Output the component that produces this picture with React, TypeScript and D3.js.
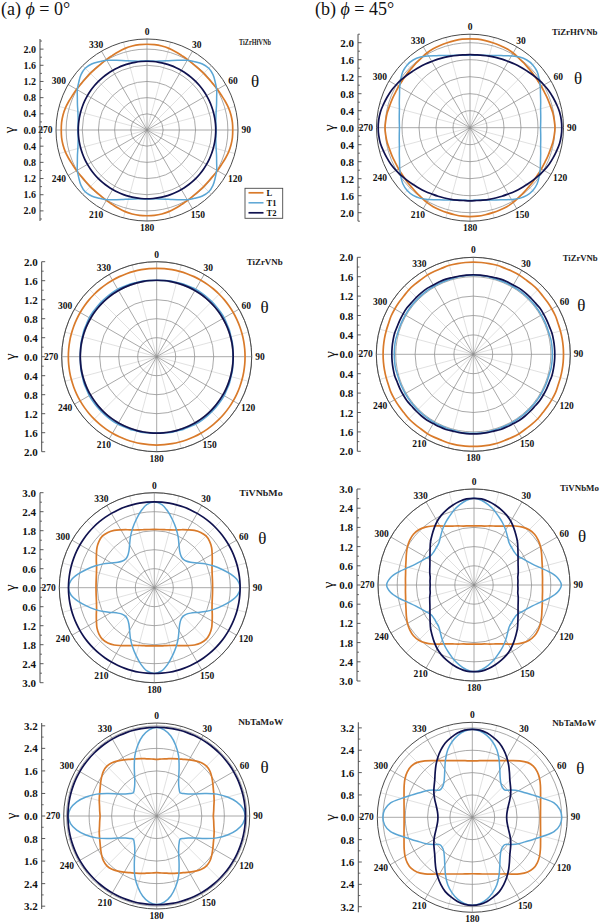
import React from "react";
import * as d3 from "d3";

// θ sample angles (deg) of one quadrant; each curve is mirror-symmetric about the 0–180 and 90–270 axes
const THETA_DEG = [0, 5, 10, 15, 20, 25, 30, 35, 40, 45, 50, 55, 60, 65, 70, 75, 80, 85, 90];

// (a) φ = 0°
const TiZrHfVNb_phi0_L = [2.12, 2.12, 2.11, 2.09, 2.06, 2.03, 2.01, 1.99, 1.98, 1.98, 1.98, 1.99, 2.01, 2.03, 2.06, 2.09, 2.11, 2.12, 2.12];
const TiZrHfVNb_phi0_T1 = [1.71, 1.71, 1.73, 1.77, 1.83, 1.9, 1.99, 2.06, 2.13, 2.16, 2.13, 2.06, 1.99, 1.9, 1.83, 1.77, 1.73, 1.71, 1.71];
const TiZrHfVNb_phi0_T2 = [1.7, 1.7, 1.7, 1.7, 1.7, 1.7, 1.7, 1.7, 1.7, 1.7, 1.7, 1.7, 1.7, 1.7, 1.7, 1.7, 1.7, 1.7, 1.7];

const TiZrVNb_phi0_L = [1.86, 1.86, 1.86, 1.86, 1.86, 1.86, 1.86, 1.86, 1.86, 1.86, 1.86, 1.86, 1.86, 1.86, 1.86, 1.86, 1.86, 1.86, 1.86];
const TiZrVNb_phi0_T1 = [1.61, 1.61, 1.62, 1.62, 1.63, 1.63, 1.64, 1.64, 1.64, 1.64, 1.64, 1.64, 1.64, 1.63, 1.63, 1.62, 1.62, 1.61, 1.61];
const TiZrVNb_phi0_T2 = [1.61, 1.61, 1.61, 1.61, 1.61, 1.61, 1.61, 1.61, 1.61, 1.61, 1.61, 1.61, 1.61, 1.61, 1.61, 1.61, 1.61, 1.61, 1.61];

const TiVNbMo_phi0_L = [1.84, 1.845, 1.86, 1.89, 1.94, 2.02, 2.11, 2.21, 2.28, 2.31, 2.28, 2.21, 2.11, 2.02, 1.94, 1.89, 1.86, 1.845, 1.84];
const TiVNbMo_phi0_T1 = [2.71, 2.64, 2.45, 2.22, 2.0, 1.78, 1.56, 1.4, 1.31, 1.28, 1.31, 1.4, 1.56, 1.78, 2.0, 2.22, 2.45, 2.64, 2.71];
const TiVNbMo_phi0_T2 = [2.71, 2.71, 2.71, 2.71, 2.71, 2.71, 2.71, 2.71, 2.71, 2.71, 2.71, 2.71, 2.71, 2.71, 2.71, 2.71, 2.71, 2.71, 2.71];

const NbTaMoW_phi0_L = [2.01, 2.03, 2.06, 2.11, 2.16, 2.22, 2.3, 2.39, 2.47, 2.5, 2.47, 2.39, 2.3, 2.22, 2.16, 2.11, 2.06, 2.03, 2.01];
const NbTaMoW_phi0_T1 = [3.14, 3.07, 2.88, 2.6, 2.27, 1.88, 1.56, 1.36, 1.24, 1.17, 1.24, 1.36, 1.56, 1.88, 2.27, 2.6, 2.88, 3.07, 3.14];
const NbTaMoW_phi0_T2 = [3.15, 3.15, 3.15, 3.15, 3.15, 3.15, 3.15, 3.15, 3.15, 3.15, 3.15, 3.15, 3.15, 3.15, 3.15, 3.15, 3.15, 3.15, 3.15];

// (b) φ = 45°
const TiZrHfVNb_phi45_L = [2.09, 2.09, 2.08, 2.07, 2.06, 2.05, 2.03, 2.0, 1.98, 1.96, 1.95, 1.94, 1.94, 1.94, 1.95, 1.96, 1.98, 1.99, 2.0];
const TiZrHfVNb_phi45_T1 = [1.71, 1.71, 1.73, 1.76, 1.81, 1.87, 1.95, 2.03, 2.08, 2.09, 2.06, 1.99, 1.91, 1.83, 1.77, 1.72, 1.69, 1.67, 1.66];
const TiZrHfVNb_phi45_T2 = [1.72, 1.72, 1.73, 1.745, 1.76, 1.78, 1.8, 1.83, 1.86, 1.89, 1.93, 1.97, 2.01, 2.05, 2.08, 2.11, 2.14, 2.155, 2.16];

const TiZrVNb_phi45_L = [1.9, 1.9, 1.9, 1.9, 1.89, 1.89, 1.89, 1.88, 1.88, 1.88, 1.87, 1.87, 1.87, 1.87, 1.86, 1.86, 1.86, 1.86, 1.86];
const TiZrVNb_phi45_T1 = [1.63, 1.63, 1.63, 1.62, 1.62, 1.62, 1.62, 1.62, 1.62, 1.62, 1.62, 1.62, 1.62, 1.62, 1.62, 1.62, 1.63, 1.63, 1.63];
const TiZrVNb_phi45_T2 = [1.64, 1.64, 1.64, 1.64, 1.65, 1.65, 1.65, 1.66, 1.66, 1.66, 1.66, 1.67, 1.67, 1.67, 1.67, 1.68, 1.68, 1.68, 1.68];

const TiVNbMo_phi45_L = [1.85, 1.855, 1.87, 1.91, 1.96, 2.03, 2.13, 2.25, 2.36, 2.44, 2.47, 2.45, 2.4, 2.33, 2.26, 2.21, 2.17, 2.15, 2.14];
const TiVNbMo_phi45_T1 = [2.71, 2.66, 2.55, 2.42, 2.27, 2.13, 1.98, 1.83, 1.71, 1.66, 1.63, 1.63, 1.7, 1.8, 1.93, 2.12, 2.38, 2.62, 2.73];
const TiVNbMo_phi45_T2 = [2.71, 2.7, 2.65, 2.58, 2.5, 2.41, 2.3, 2.17, 2.04, 1.92, 1.79, 1.68, 1.59, 1.52, 1.47, 1.43, 1.39, 1.38, 1.37];

const NbTaMoW_phi45_L = [2.02, 2.03, 2.06, 2.1, 2.16, 2.24, 2.34, 2.48, 2.64, 2.78, 2.85, 2.84, 2.78, 2.69, 2.6, 2.53, 2.48, 2.45, 2.44];
const NbTaMoW_phi45_T1 = [3.15, 3.1, 2.98, 2.8, 2.57, 2.27, 1.97, 1.74, 1.59, 1.52, 1.52, 1.7, 1.9, 2.08, 2.32, 2.62, 2.97, 3.15, 3.2];
const NbTaMoW_phi45_T2 = [3.15, 3.13, 3.06, 2.95, 2.83, 2.66, 2.47, 2.27, 2.07, 1.9, 1.78, 1.68, 1.58, 1.48, 1.39, 1.32, 1.27, 1.24, 1.23];

const PANEL_NAMES = ["TiZrHfVNb", "TiZrHfVNb", "TiZrVNb", "TiZrVNb", "TiVNbMo", "TiVNbMo", "NbTaMoW", "NbTaMoW"];
const RADIAL_MAX = [2.25, 2.2, 2.0, 2.0, 3.0, 3.0, 3.3, 3.4];
const RADIAL_STEP = [0.4, 0.4, 0.4, 0.4, 0.6, 0.6, 0.8, 0.8];
const ANGLE_TICKS = [0, 30, 60, 90, 120, 150, 180, 210, 240, 270, 300, 330];
const MINOR_SPOKES = [15, 45, 75, 105, 135, 165, 195, 225, 255, 285, 315, 345];
const SERIES_NAMES = ["L", "T1", "T2"];
const HEADER_LABELS = ["(a)", "(b)"];
const HEADER_PHI = ["0°", "45°"];

const PANEL_SERIES = [
  [TiZrHfVNb_phi0_L, TiZrHfVNb_phi0_T1, TiZrHfVNb_phi0_T2],
  [TiZrHfVNb_phi45_L, TiZrHfVNb_phi45_T1, TiZrHfVNb_phi45_T2],
  [TiZrVNb_phi0_L, TiZrVNb_phi0_T1, TiZrVNb_phi0_T2],
  [TiZrVNb_phi45_L, TiZrVNb_phi45_T1, TiZrVNb_phi45_T2],
  [TiVNbMo_phi0_L, TiVNbMo_phi0_T1, TiVNbMo_phi0_T2],
  [TiVNbMo_phi45_L, TiVNbMo_phi45_T1, TiVNbMo_phi45_T2],
  [NbTaMoW_phi0_L, NbTaMoW_phi0_T1, NbTaMoW_phi0_T2],
  [NbTaMoW_phi45_L, NbTaMoW_phi45_T1, NbTaMoW_phi45_T2],
];

// ---------- layout / style ----------
const COLORS = ["#d97a2a", "#5aa5d4", "#10124f"];
const WIDTHS = [1.7, 1.5, 1.7];
const SERIF = "'Liberation Serif', 'Times New Roman', serif";

const LAYOUT = [
  { cx: 147, cy: 130, R: 91, axisX: 40, gammaX: 8.5, nameX: 239, nameY: 42.7, nameW: 32, nameSize: 7.5, tickSize: 10 },
  { cx: 470, cy: 127.7, R: 93.5, axisX: 358, gammaX: 329, nameX: 552, nameY: 32.3, nameW: 45.5, nameSize: 9, tickSize: 11 },
  { cx: 156.7, cy: 356.7, R: 95, axisX: 41.7, gammaX: 10, nameX: 246.7, nameY: 261.7, nameW: 36, nameSize: 9, tickSize: 11 },
  { cx: 473.3, cy: 354.3, R: 97, axisX: 357.3, gammaX: 329.7, nameX: 562.7, nameY: 258.3, nameW: 35, nameSize: 9, tickSize: 11 },
  { cx: 154.3, cy: 587.7, R: 95, axisX: 40, gammaX: 10, nameX: 239.3, nameY: 493.3, nameW: 43.4, nameSize: 9, tickSize: 11 },
  { cx: 474, cy: 585, R: 96, axisX: 357, gammaX: 328.3, nameX: 560, nameY: 488.3, nameW: 39, nameSize: 9, tickSize: 11 },
  { cx: 156.7, cy: 816, R: 93, axisX: 41.7, gammaX: 11.2, nameX: 238.3, nameY: 722.3, nameW: 45, nameSize: 9, tickSize: 11 },
  { cx: 472.3, cy: 817.3, R: 95, axisX: 358.3, gammaX: 329.7, nameX: 552.3, nameY: 723.3, nameW: 43.7, nameSize: 9, tickSize: 11 },
];

function fullCircle(q: number[]): [number, number][] {
  const pts: [number, number][] = [];
  for (let a = 0; a < 360; a += 5) {
    let m = a % 180;
    if (m > 90) m = 180 - m;
    const idx = THETA_DEG.indexOf(m);
    pts.push([a, q[idx]]);
  }
  return pts;
}

function Panel({ i }: { i: number }) {
  const L = LAYOUT[i];
  const max = RADIAL_MAX[i];
  const step = RADIAL_STEP[i];
  const r = d3.scaleLinear().domain([0, max]).range([0, L.R]);
  const nMajor = Math.floor(max / step + 1e-6);
  const majors = d3.range(0, nMajor + 1).map((k) => +(k * step).toFixed(2));
  const nMinor = Math.floor(max / (step / 2) + 1e-6);
  const minors = d3.range(1, nMinor + 1, 2).map((k) => (k * step) / 2);
  const toRad = (d: number) => (d * Math.PI) / 180;

  const line = d3
    .lineRadial<[number, number]>()
    .angle((d) => toRad(d[0]))
    .radius((d) => r(d[1]))
    .curve(d3.curveCatmullRomClosed.alpha(0.5));

  const labelPos = (deg: number, text: string) => {
    const s = Math.sin(toRad(deg));
    const c = Math.cos(toRad(deg));
    const w = text.length * 4.8;
    const h = 7;
    const g = 3.5;
    return { x: (L.R + g) * s + (w / 2) * s, y: -(L.R + g) * c - (h / 2) * c };
  };

  return (
    <g>
      {/* polar grid */}
      <g transform={`translate(${L.cx},${L.cy})`}>
        {MINOR_SPOKES.map((d) => (
          <line key={"m" + d} x1={0} y1={0} x2={L.R * Math.sin(toRad(d))} y2={-L.R * Math.cos(toRad(d))} stroke="#d4d4d4" strokeWidth={0.7} />
        ))}
        {ANGLE_TICKS.map((d) => (
          <line key={"M" + d} x1={0} y1={0} x2={L.R * Math.sin(toRad(d))} y2={-L.R * Math.cos(toRad(d))} stroke="#8c8c8c" strokeWidth={0.75} />
        ))}
        {majors.filter((v) => v > 0).map((v) => (
          <circle key={"c" + v} r={r(v)} fill="none" stroke="#8c8c8c" strokeWidth={0.75} />
        ))}
        <circle r={L.R} fill="none" stroke="#4a4a4a" strokeWidth={1} />
        {PANEL_SERIES[i].map((s, k) => (
          <path key={"s" + k} d={line(fullCircle(s)) || ""} fill="none" stroke={COLORS[k]} strokeWidth={WIDTHS[k]} strokeLinejoin="round" />
        ))}
        {ANGLE_TICKS.map((d) => {
          const p = labelPos(d, String(d));
          return (
            <text key={"a" + d} x={p.x} y={p.y} textAnchor="middle" dominantBaseline="central" fontFamily={SERIF} fontWeight="bold" fontSize={9.5} fill="#111">
              {d}
            </text>
          );
        })}
        <text x={108} y={-49} textAnchor="middle" dominantBaseline="central" fontFamily={SERIF} fontSize={17} fill="#111">
          θ
        </text>
      </g>

      {/* radial axis on the left */}
      <line x1={L.axisX} y1={L.cy - L.R} x2={L.axisX} y2={L.cy + L.R} stroke="#4a4a4a" strokeWidth={1} />
      {majors.map((v) => (
        <g key={"t" + v}>
          <line x1={L.axisX} y1={L.cy - r(v)} x2={L.axisX + 3.5} y2={L.cy - r(v)} stroke="#4a4a4a" strokeWidth={0.9} />
          {v > 0 && <line x1={L.axisX} y1={L.cy + r(v)} x2={L.axisX + 3.5} y2={L.cy + r(v)} stroke="#4a4a4a" strokeWidth={0.9} />}
          <text x={L.axisX - 4} y={L.cy - r(v)} textAnchor="end" dominantBaseline="central" fontFamily={SERIF} fontWeight="bold" fontSize={L.tickSize} fill="#111">
            {v.toFixed(1)}
          </text>
          {v > 0 && (
            <text x={L.axisX - 4} y={L.cy + r(v)} textAnchor="end" dominantBaseline="central" fontFamily={SERIF} fontWeight="bold" fontSize={L.tickSize} fill="#111">
              {v.toFixed(1)}
            </text>
          )}
        </g>
      ))}
      {minors.map((v) => (
        <g key={"n" + v}>
          <line x1={L.axisX} y1={L.cy - r(v)} x2={L.axisX + 2} y2={L.cy - r(v)} stroke="#4a4a4a" strokeWidth={0.8} />
          <line x1={L.axisX} y1={L.cy + r(v)} x2={L.axisX + 2} y2={L.cy + r(v)} stroke="#4a4a4a" strokeWidth={0.8} />
        </g>
      ))}
      <text
        x={L.gammaX}
        y={L.cy}
        transform={`rotate(-90 ${L.gammaX} ${L.cy})`}
        textAnchor="middle"
        dominantBaseline="central"
        fontFamily={SERIF}
        fontSize={15}
        fill="#111"
      >
        γ
      </text>

      {/* material name */}
      <text
        x={L.nameX}
        y={L.nameY}
        dominantBaseline="central"
        fontFamily={SERIF}
        fontWeight="bold"
        fontSize={L.nameSize}
        textLength={L.nameW}
        lengthAdjust="spacingAndGlyphs"
        fill="#222"
      >
        {PANEL_NAMES[i]}
      </text>
    </g>
  );
}

function Legend() {
  const x0 = 245;
  const y0 = 188.3;
  return (
    <g>
      <rect x={x0} y={y0} width={37.7} height={30} fill="#fff" stroke="#4a4a4a" strokeWidth={0.9} />
      {SERIES_NAMES.map((n, k) => (
        <g key={n}>
          <line x1={x0 + 3.5} x2={x0 + 18.5} y1={y0 + 4.5 + k * 10} y2={y0 + 4.5 + k * 10} stroke={COLORS[k]} strokeWidth={WIDTHS[k]} />
          <text x={x0 + 21.5} y={y0 + 4.8 + k * 10} dominantBaseline="central" fontFamily={SERIF} fontWeight="bold" fontSize={8.5} fill="#111">
            {n}
          </text>
        </g>
      ))}
    </g>
  );
}

export default function App() {
  return (
    <svg width={600} height={924} style={{ position: "absolute", left: 0, top: 0, background: "#fff" }}>
      <rect x={0} y={0} width={600} height={924} fill="#fff" />
      {[0, 1].map((c) => (
        <text key={c} x={c === 0 ? 1 : 315} y={15} fontFamily={SERIF} fontSize={18} fill="#111">
          {HEADER_LABELS[c]}{" "}
          <tspan fontStyle="italic">ϕ</tspan>
          {" = " + HEADER_PHI[c]}
        </text>
      ))}
      {LAYOUT.map((_, i) => (
        <Panel key={i} i={i} />
      ))}
      <Legend />
    </svg>
  );
}
